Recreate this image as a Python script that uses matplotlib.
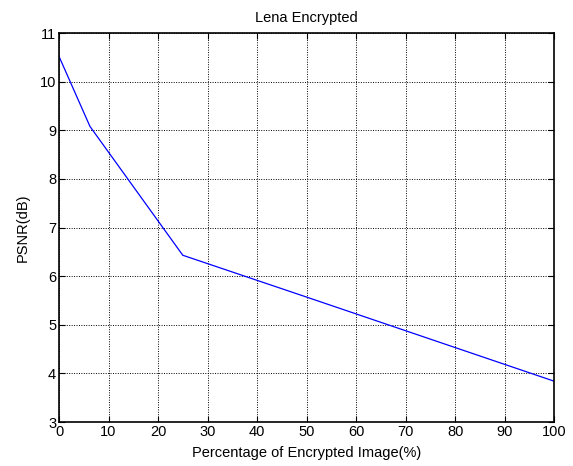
import matplotlib
matplotlib.use("Agg")
import matplotlib.pyplot as plt

plt.rcParams['font.family'] = ['Liberation Sans', 'DejaVu Sans']

# Percentage of image encrypted vs PSNR
percent = [0, 6.25, 25, 50, 100]
psnr = [10.52, 9.08, 6.43, 5.57, 3.84]

xticks = [0, 10, 20, 30, 40, 50, 60, 70, 80, 90, 100]
yticks = [3, 4, 5, 6, 7, 8, 9, 10, 11]

fig = plt.figure(figsize=(5.73, 4.66), dpi=100)
ax = fig.add_axes([0.103, 0.0944, 0.864, 0.8346])

ax.plot(percent, psnr, color='#0000ff', linewidth=0.9)

ax.set_xlim(0, 100)
ax.set_ylim(3, 11)
ax.set_xticks(xticks)
ax.set_yticks(yticks)
ax.tick_params(direction='in', length=4, width=0.8, labelsize=10.5,
               top=True, right=True, pad=2)
ax.grid(True, linestyle=(0, (1, 1.5)), color='black', linewidth=0.7)
for s in ax.spines.values():
    s.set_linewidth(1.2)

ax.set_title('Lena Encrypted', fontsize=10.5, pad=8)
ax.set_xlabel('Percentage of Encrypted Image(%)', fontsize=10.5, labelpad=5)
ax.set_ylabel('PSNR(dB)', fontsize=10.5, labelpad=7)

fig.savefig('out.png', dpi=100)
